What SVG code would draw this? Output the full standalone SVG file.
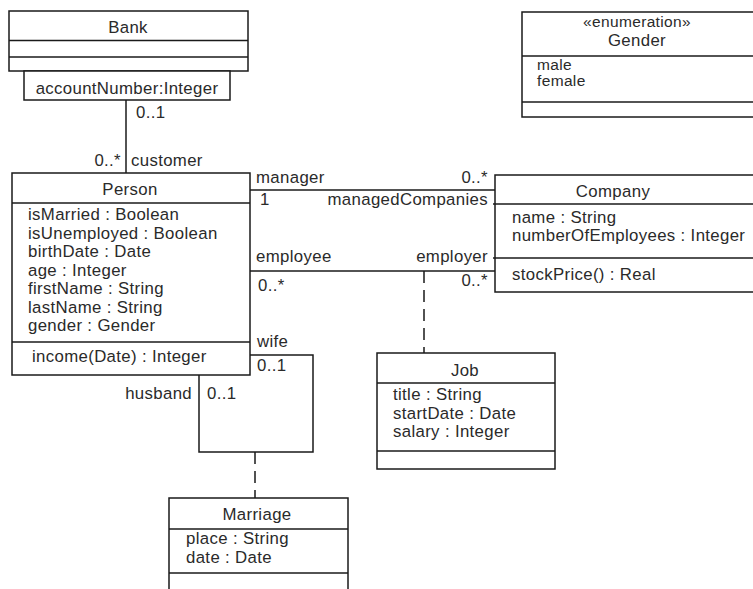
<svg xmlns="http://www.w3.org/2000/svg" width="753" height="589" viewBox="0 0 753 589">
<style>
  .box{fill:#fff;stroke:#1a1a1a;stroke-width:1.5}
  .ln{fill:none;stroke:#1a1a1a;stroke-width:1.5}
  .dash{fill:none;stroke:#1a1a1a;stroke-width:1.5;stroke-dasharray:12 7}
  text{font-family:"Liberation Sans",Arial,sans-serif;font-size:16.8px;letter-spacing:0.35px;fill:#2a2a2a}
  .c{text-anchor:middle}
  .r{text-anchor:end}
  .tight{font-size:15.5px}
</style>
<rect width="753" height="589" fill="#fff"/>
<g id="connectors">
  <line class="ln" x1="126" y1="100" x2="126" y2="173"/>
  <text x="136" y="118">0..1</text>
  <text class="r" x="121" y="166">0..*</text>
  <text x="131" y="166">customer</text>
  <line class="ln" x1="250" y1="190" x2="495" y2="190"/>
  <text x="256" y="183">manager</text>
  <text class="r" x="488" y="183">0..*</text>
  <text x="260" y="205">1</text>
  <text class="r" x="488" y="205">managedCompanies</text>
  <line class="ln" x1="250" y1="271" x2="495" y2="271"/>
  <text x="256" y="262">employee</text>
  <text class="r" x="488" y="262">employer</text>
  <text x="258" y="291">0..*</text>
  <text class="r" x="488" y="286">0..*</text>
  <line class="dash" x1="424" y1="271" x2="424" y2="353"/>
  <polyline class="ln" points="250,355 313,355 313,452 199,452 199,375"/>
  <text x="257" y="347">wife</text>
  <text x="257" y="371">0..1</text>
  <text class="r" x="192" y="399">husband</text>
  <text x="207" y="399">0..1</text>
  <line class="dash" x1="255" y1="452" x2="255" y2="498"/>
</g>
<g id="bank">
  <rect class="box" x="9" y="11" width="239" height="60"/>
  <line class="ln" x1="9" y1="40.5" x2="248" y2="40.5"/>
  <line class="ln" x1="9" y1="57" x2="248" y2="57"/>
  <text class="c" x="128" y="33">Bank</text>
  <rect class="box" x="24" y="71" width="206" height="29"/>
  <text class="c" x="127" y="94">accountNumber:Integer</text>
</g>
<g id="gender">
  <rect class="box" x="522" y="12" width="240" height="105"/>
  <line class="ln" x1="522" y1="56" x2="753" y2="56"/>
  <line class="ln" x1="522" y1="102" x2="753" y2="102"/>
  <text class="c tight" x="637" y="27">«enumeration»</text>
  <text class="c" x="637" y="46">Gender</text>
  <text class="tight" x="537" y="70">male</text>
  <text class="tight" x="537" y="86">female</text>
</g>
<g id="person">
  <rect class="box" x="12" y="173" width="238" height="202"/>
  <line class="ln" x1="12" y1="203" x2="250" y2="203"/>
  <line class="ln" x1="12" y1="342" x2="250" y2="342"/>
  <text class="c" x="130" y="195">Person</text>
  <text x="28" y="220">isMarried : Boolean</text>
  <text x="28" y="238.5">isUnemployed : Boolean</text>
  <text x="28" y="257">birthDate : Date</text>
  <text x="28" y="275.5">age : Integer</text>
  <text x="28" y="294">firstName : String</text>
  <text x="28" y="312.5">lastName : String</text>
  <text x="28" y="331">gender : Gender</text>
  <text x="32" y="362">income(Date) : Integer</text>
</g>
<g id="company">
  <rect class="box" x="495" y="175" width="265" height="117"/>
  <line class="ln" x1="493" y1="204" x2="753" y2="204"/>
  <line class="ln" x1="493" y1="258" x2="753" y2="258"/>
  <text class="c" x="613" y="197">Company</text>
  <text x="512" y="223">name : String</text>
  <text x="512" y="241">numberOfEmployees : Integer</text>
  <text x="512" y="280">stockPrice() : Real</text>
</g>
<g id="job">
  <rect class="box" x="377" y="353" width="178" height="116"/>
  <line class="ln" x1="377" y1="383" x2="555" y2="383"/>
  <line class="ln" x1="377" y1="451" x2="555" y2="451"/>
  <text class="c" x="465" y="376">Job</text>
  <text x="393" y="400">title : String</text>
  <text x="393" y="419">startDate : Date</text>
  <text x="393" y="437">salary : Integer</text>
</g>
<g id="marriage">
  <rect class="box" x="169" y="498" width="179" height="100"/>
  <line class="ln" x1="169" y1="529" x2="348" y2="529"/>
  <line class="ln" x1="169" y1="573" x2="348" y2="573"/>
  <text class="c" x="257" y="520">Marriage</text>
  <text x="186" y="544">place : String</text>
  <text x="186" y="562.5">date : Date</text>
</g>
</svg>
